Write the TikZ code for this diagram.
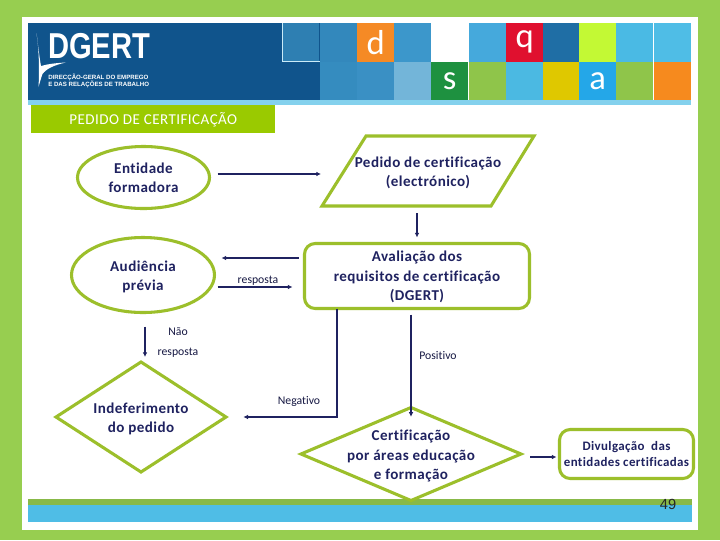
\documentclass[tikz,border=0pt]{standalone}
\usepackage{fontspec}
\setmainfont[Ligatures=NoCommon]{Carlito}
\newfontfamily\boxfont[LetterSpace=3,Ligatures=NoCommon]{Carlito}
\newfontfamily\heros{Liberation Sans}
\usetikzlibrary{shapes.geometric,arrows.meta,calc}
\def\px{0.75pt}
\newcommand\lowerA{\rule{0pt}{11pt}}
\newcommand\lowerB{\rule{0pt}{9.5pt}}
\definecolor{lime}{HTML}{97CE50}
\definecolor{linegreen}{HTML}{9CBF2B}
\definecolor{titlegreen}{HTML}{9ACA00}
\definecolor{navy}{HTML}{1F2260}
\definecolor{tealblue}{HTML}{4FBDE6}
\definecolor{logoblue}{HTML}{10548C}
\tikzset{
  x=0.75pt,y=-0.75pt,
  flowtext/.style={align=center,text=navy,font=\fontsize{11.3}{14.5}\selectfont\boxfont\bfseries,inner sep=0pt,outer sep=0pt},
  flowbox/.style={flowtext,draw=linegreen,line width=2.3pt,fill=white},
  flowline/.style={draw=linegreen,line width=2.3pt,line join=miter},
  conn/.style={draw=navy,line width=1.4pt,-{Latex[length=3.5pt,width=3.5pt]}},
  thinconn/.style={draw=navy,line width=0.9pt,-{Latex[length=3.5pt,width=3.5pt]}},
  lbl/.style={text=navy!70!black,font=\fontsize{8.8}{10}\selectfont,inner sep=0pt},
  tile/.style={font=\fontsize{26}{26}\selectfont,text=white,inner sep=0pt,outer sep=0pt,minimum width=37.3*\px,minimum height=38.5*\px},
}
\begin{document}
\begin{tikzpicture}
\useasboundingbox (0,0) rectangle (720,540);
\fill[lime] (0,0) rectangle (720,540);
\fill[white] (22,17) rectangle (698,530);
% header
\fill[logoblue] (28,23) rectangle (320,100);
\fill[tealblue!70!white] (28,100) rectangle (691,105);
\foreach \xa/\ya/\c/\t/\nm in {
 282/23/2E7FB2//ta,320/23/3388BC//tb,357/23/F58A25/d/tc,394/23/3C97CB//td,431/23/FFFFFF//te,469/23/45A9DC//tf,
 506/23/E0102F/q/tg,543/23/1F6EA5//th,579/23/C3F934//ti,616/23/4ABAE4//tj,654/23/4FBDE6//tk,
 320/61.5/358CBF//ba,357/61.5/3A90C4//bb,394/61.5/73B5D9//bc,431/61.5/1E9140/\raisebox{-2pt}{s}/bd,469/61.5/8FC54A//be,
 506/61.5/4BB9E2//bf,543/61.5/DFC800//bg,579/61.5/24A7E8/\raisebox{-2pt}{a}/bh,616/61.5/8FC54A//bi,654/61.5/F68A1E//bj}{
  \definecolor{tc}{HTML}{\c}
  \node[tile,fill=tc,anchor=north west] (\nm) at (\xa,\ya) {\t};
}
\draw[white!70!tealblue,line width=0.5pt] (282,23) -- (282,61.5) -- (320,61.5);
% logo
\fill[white] (36.5,33) .. controls (38,45) and (39.5,58) .. (41,66) .. controls (48,64) and (56,63) .. (66,62.5) .. controls (54,65) and (46,69) .. (42.5,74) .. controls (41,78) and (40,82) .. (38.5,87) .. controls (39.5,70) and (39,50) .. (36.5,33) -- cycle;
\node[anchor=west,text=white,inner sep=0pt,font=\fontsize{27}{27}\selectfont\bfseries\heros,xscale=0.81] (logotext) at (48,46.5) {DGERT};
\node[anchor=west,align=left,text=white,inner sep=0pt,font=\fontsize{4.6}{5.3}\selectfont\bfseries\heros] (logosub) at (48,80.5) {DIRECÇÃO-GERAL DO EMPREGO\\E DAS RELAÇÕES DE TRABALHO};
% title
\node[fill=titlegreen,anchor=north west,minimum width=244*\px,minimum height=28*\px,inner sep=0pt,text=white,
  font=\fontsize{11.3}{12}\selectfont\boxfont] (title) at (31,105) {PEDIDO DE CERTIFICAÇÃO};
% bottom bars
\fill[lime!90!black] (28,499) rectangle (692,505);
\fill[tealblue] (28,505) rectangle (692,522);
% nodes
\node[flowbox,ellipse,minimum width=132*\px,minimum height=62*\px] (ent) at (143.5,177.5) {Entidade\\formadora};
\node[flowbox,ellipse,minimum width=143*\px,minimum height=75*\px] (aud) at (143,275) {\lowerA Audiência\\prévia};
\node[flowtext,minimum width=212*\px,minimum height=70*\px] (ped) at (428,171) {\lowerA Pedido de certificação\\(electrónico)};
\draw[flowline] ([xshift=44*\px]ped.north west) -- (ped.north east) -- ([xshift=-43*\px]ped.south east) -- (ped.south west) -- cycle;
\node[flowbox,rectangle,rounded corners=8pt,minimum width=225*\px,minimum height=65*\px] (ava) at (417,276) {\lowerB Avaliação dos\\requisitos de certificação\\(DGERT)};
\node[flowtext,minimum width=170*\px,minimum height=110*\px] (ind) at (141,417) {\lowerA Indeferimento\\do pedido};
\draw[flowline] (ind.west) -- (ind.north) -- (ind.east) -- (ind.south) -- cycle;
\node[flowtext,minimum width=220*\px,minimum height=93*\px] (cer) at (411,454) {\lowerA Certificação\\por áreas educação\\e formação};
\draw[flowline] (cer.west) -- (cer.north) -- (cer.east) -- (cer.south) -- cycle;
\node[flowbox,rectangle,rounded corners=8pt,minimum width=134*\px,minimum height=49*\px,font=\fontsize{9.7}{12.5}\selectfont\boxfont\bfseries] (div) at (626.5,454) {Divulgação\ \ das\\entidades certificadas};
% connectors
\draw[conn] ([shift={(8,-3.5)}]ent.east) -- ([shift={(-1,3)}]ped.west);
\draw[conn] ([shift={(-11,7)}]ped.south) -- ([shift={(0,-6)}]ava.north);
\draw[conn] ([shift={(-6,-18)}]ava.west) -- ([shift={(7,-17)}]aud.east);
\draw[conn] ([shift={(3,12)}]aud.east) -- ([shift={(-12,11)}]ava.west);
\draw[thinconn] (ava.south -| 337,0) -- ++(0,108.5) -- ([xshift=13]ind.east);
\draw[conn] ([shift={(-6,6)}]ava.south) -- ([yshift=-7]cer.north);
\draw[conn] ([shift={(2,14)}]aud.south) -- ([shift={(4,-5)}]ind.north);
\draw[conn] ([shift={(9,3)}]cer.east) -- ([shift={(-3,3)}]div.west);
% labels
\node[lbl] (l1) at (258,281) {resposta};
\node[lbl] (l2) at (178,332) {Não};
\node[lbl] (l3) at (178,353) {resposta};
\node[lbl] (l4) at (299,401) {Negativo};
\node[lbl] (l5) at (438,355) {Positivo};
\node[inner sep=0pt,font=\fontsize{11}{12}\selectfont\heros,text=black!85] (pg) at (668,504) {49};
\end{tikzpicture}
\end{document}
